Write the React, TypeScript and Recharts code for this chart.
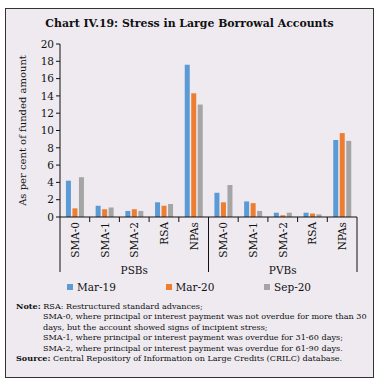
import React from 'react';
import { BarChart, Bar, XAxis, YAxis } from 'recharts';

// categories (two banking groups, five stress buckets each)
const categories = ['SMA-0', 'SMA-1', 'SMA-2', 'RSA', 'NPAs', 'SMA-0', 'SMA-1', 'SMA-2', 'RSA', 'NPAs'];
const groups = ['PSBs', 'PSBs', 'PSBs', 'PSBs', 'PSBs', 'PVBs', 'PVBs', 'PVBs', 'PVBs', 'PVBs'];

const mar19 = [4.2, 1.3, 0.7, 1.7, 17.6, 2.8, 1.8, 0.5, 0.5, 8.9];
const mar20 = [1.0, 0.9, 0.9, 1.3, 14.3, 1.7, 1.6, 0.2, 0.4, 9.7];
const sep20 = [4.6, 1.1, 0.7, 1.5, 13.0, 3.7, 0.7, 0.5, 0.3, 8.8];

const yTicks = [0, 2, 4, 6, 8, 10, 12, 14, 16, 18, 20];

const seriesNames = ['Mar-19', 'Mar-20', 'Sep-20'];
const seriesKeys = ['mar19', 'mar20', 'sep20'];
const colors = ['#5B9BD5', '#ED7D31', '#A5A5A5'];

const data = categories.map((c, i) => ({
  name: c,
  group: groups[i],
  mar19: mar19[i],
  mar20: mar20[i],
  sep20: sep20[i],
}));

const FONT = '"DejaVu Serif", serif';
const BG = '#EEEAF0';

const CHART_W = 379;
const M_LEFT = 0;
const Y_W = 60;
const M_RIGHT = 22;

function CategoryTick(props: any) {
  const { x, y, payload, index } = props;
  const bw = payload && payload.offset ? payload.offset * 2 : (CHART_W - M_LEFT - Y_W - M_RIGHT) / categories.length;
  const isGroupEnd = index === categories.length - 1 || groups[index] !== groups[index + 1];
  const isFirst = index === 0;
  const groupLen = groups.filter((g) => g === groups[index]).length;
  const firstOfGroup = groups.indexOf(groups[index]);
  const isMid = index === firstOfGroup + Math.floor(groupLen / 2);
  return (
    <g>
      <text
        x={x}
        y={y + 5}
        transform={`rotate(-90, ${x}, ${y + 5})`}
        textAnchor="end"
        dominantBaseline="central"
        fontSize={10.5}
        fontFamily={FONT}
        fill="#111"
      >
        {payload.value}
      </text>
      {isFirst && <line x1={x - bw / 2} x2={x - bw / 2} y1={y} y2={y + 55} stroke="#111" strokeWidth={1} />}
      <line
        x1={x + bw / 2}
        x2={x + bw / 2}
        y1={y}
        y2={isGroupEnd ? y + 55 : y + 5}
        stroke="#111"
        strokeWidth={1}
      />
      {isMid && (
        <text
          x={x}
          y={y + 53}
          textAnchor="middle"
          dominantBaseline="central"
          fontSize={10.5}
          fontFamily={FONT}
          fill="#111"
        >
          {groups[index]}
        </text>
      )}
    </g>
  );
}

export default function App() {
  return (
    <div style={{ position: 'absolute', left: 0, top: 0, width: 379, height: 384, background: '#fff', fontFamily: FONT }}>
      <div
        style={{
          position: 'absolute',
          left: 5,
          top: 8,
          width: 367,
          height: 368,
          border: '1px solid #333',
          background: BG,
        }}
      />
      <div
        style={{
          position: 'absolute',
          left: 0,
          top: 16,
          width: 379,
          textAlign: 'center',
          fontWeight: 'bold',
          fontSize: 10.9,
          lineHeight: '16px',
          color: '#111',
        }}
      >
        Chart IV.19: Stress in Large Borrowal Accounts
      </div>
      <div style={{ position: 'absolute', left: 0, top: 0 }}>
        <BarChart
          width={CHART_W}
          height={280}
          data={data}
          margin={{ top: 44, right: M_RIGHT, left: M_LEFT, bottom: 3 }}
          barCategoryGap="20%"
          barGap={1.5}
        >
          <XAxis
            dataKey="name"
            interval={0}
            height={60}
            tickLine={false}
            tickSize={0}
            tickMargin={0}
            axisLine={{ stroke: '#111' }}
            tick={<CategoryTick />}
          />
          <YAxis
            width={Y_W}
            domain={[0, 20]}
            ticks={yTicks}
            interval={0}
            tickSize={4}
            tickMargin={2}
            axisLine={{ stroke: '#111' }}
            tickLine={{ stroke: '#111' }}
            tick={{ fontSize: 10.5, fontFamily: FONT, fill: '#111' }}
            label={{
              value: 'As per cent of funded amount',
              angle: -90,
              position: 'insideLeft',
              offset: 22,
              style: { fontSize: 10, fontFamily: FONT, fill: '#111', textAnchor: 'middle' },
            }}
          />
          {seriesKeys.map((k, i) => (
            <Bar key={k} dataKey={k} name={seriesNames[i]} fill={colors[i]} isAnimationActive={false} />
          ))}
        </BarChart>
      </div>
      {seriesNames.map((n, i) => (
        <div
          key={n}
          style={{
            position: 'absolute',
            left: 67 + i * 98.5,
            top: 280,
            display: 'flex',
            alignItems: 'center',
            fontSize: 10.5,
            color: '#111',
            lineHeight: '14px',
          }}
        >
          <span style={{ display: 'inline-block', width: 6, height: 6, background: colors[i], marginRight: 4 }} />
          {n}
        </div>
      ))}
      <div
        style={{
          position: 'absolute',
          left: 16,
          top: 301,
          width: 360,
          fontSize: 8.1,
          lineHeight: '10.4px',
          color: '#111',
          whiteSpace: 'nowrap',
        }}
      >
        <div>
          <b>Note:</b> RSA: Restructured standard advances;
        </div>
        <div style={{ paddingLeft: 27 }}>
          SMA-0, where principal or interest payment was not overdue for more than 30
        </div>
        <div style={{ paddingLeft: 27 }}>days, but the account showed signs of incipient stress;</div>
        <div style={{ paddingLeft: 27 }}>SMA-1, where principal or interest payment was overdue for 31-60 days;</div>
        <div style={{ paddingLeft: 27 }}>SMA-2, where principal or interest payment was overdue for 61-90 days.</div>
        <div>
          <b>Source:</b> Central Repository of Information on Large Credits (CRILC) database.
        </div>
      </div>
    </div>
  );
}
